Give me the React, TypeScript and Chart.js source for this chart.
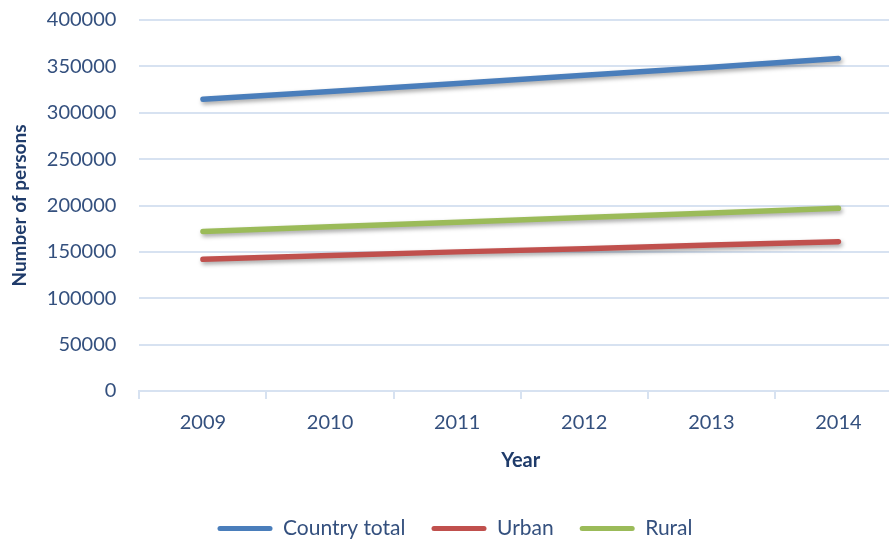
import React, { useEffect, useRef } from "react";
import { Chart, registerables } from "chart.js";

Chart.register(...registerables);

const years = ["2009", "2010", "2011", "2012", "2013", "2014"];
const countryTotal = [314500, 323000, 331500, 340500, 349000, 358500];
const urban = [142000, 146000, 150000, 153500, 157500, 161000];
const rural = [172000, 177000, 182000, 187000, 192000, 197000];

const yMin = 0;
const yMax = 400000;
const yStep = 50000;

const FONT = "Lato, 'Open Sans', sans-serif";
const TICK_COLOR = "#34507E";
const TITLE_COLOR = "#1F3B6A";
const GRID_COLOR = "#D7E2F1";

const shadowPlugin = {
  id: "lineShadow",
  beforeDatasetsDraw(chart: any) {
    const ctx = chart.ctx;
    ctx.save();
    ctx.shadowColor = "rgba(0,0,0,0.35)";
    ctx.shadowBlur = 4;
    ctx.shadowOffsetX = 1.5;
    ctx.shadowOffsetY = 2.5;
  },
  afterDatasetsDraw(chart: any) {
    chart.ctx.restore();
  },
};

export default function App() {
  const ref = useRef<HTMLCanvasElement | null>(null);

  useEffect(() => {
    if (!ref.current) return;
    const mk = (label: string, data: number[], color: string) => ({
      label,
      data,
      borderColor: color,
      backgroundColor: color,
      borderWidth: 5.5,
      borderCapStyle: "round" as const,
      borderJoinStyle: "round" as const,
      pointRadius: 0,
      pointHoverRadius: 0,
      tension: 0,
      fill: false,
    });
    const chart = new Chart(ref.current, {
      type: "line",
      data: {
        labels: years,
        datasets: [
          mk("Country total", countryTotal, "#4A7EBB"),
          mk("Urban", urban, "#C0504D"),
          mk("Rural", rural, "#9BBB59"),
        ],
      },
      plugins: [shadowPlugin],
      options: {
        responsive: false,
        animation: false,
        devicePixelRatio: 1,
        layout: { padding: { left: 8, right: 10, top: 0, bottom: -10 } },
        plugins: {
          tooltip: { enabled: false },
          legend: {
            position: "bottom",
            labels: {
              font: { family: FONT, size: 21 },
              color: TICK_COLOR,
              boxWidth: 55,
              boxHeight: 5,
              padding: 26,
              useBorderRadius: true,
              borderRadius: 2.5,
              generateLabels: (c: any) =>
                c.data.datasets.map((d: any, i: number) => ({
                  text: d.label,
                  fillStyle: d.borderColor,
                  strokeStyle: d.borderColor,
                  lineWidth: 0,
                  fontColor: TICK_COLOR,
                  datasetIndex: i,
                  hidden: false,
                  borderRadius: 2.5,
                })),
            },
          },
        },
        scales: {
          x: {
            type: "category",
            offset: true,
            grid: {
              offset: true,
              drawOnChartArea: false,
              drawTicks: true,
              tickLength: 8,
              color: GRID_COLOR,
              lineWidth: 2,
            },
            border: { display: true, color: GRID_COLOR, width: 2 },
            ticks: {
              font: { family: FONT, size: 20 },
              color: TICK_COLOR,
              padding: 12,
              maxRotation: 0,
            },
            title: {
              display: true,
              text: "Year",
              font: { family: FONT, size: 20, weight: "bold" },
              color: TITLE_COLOR,
              padding: { top: 2, bottom: 19 },
            },
          },
          y: {
            min: yMin,
            max: yMax,
            grid: {
              color: GRID_COLOR,
              lineWidth: 2,
              drawTicks: false,
            },
            border: { display: false },
            ticks: {
              stepSize: yStep,
              font: { family: FONT, size: 20 },
              color: TICK_COLOR,
              padding: 23,
              callback: (v: any) => String(v),
            },
            title: {
              display: true,
              text: "Number of persons",
              font: { family: FONT, size: 19, weight: "bold" },
              color: TITLE_COLOR,
              padding: { top: 0, bottom: -7 },
            },
          },
        },
      },
    });
    return () => chart.destroy();
  }, []);

  return (
    <div
      style={{
        position: "absolute",
        left: 0,
        top: 0,
        width: 889,
        height: 539,
        overflow: "hidden",
        background: "#fff",
      }}
    >
      <canvas
        ref={ref}
        width={912}
        height={554}
        style={{ display: "block", marginTop: -15 }}
      />
    </div>
  );
}
